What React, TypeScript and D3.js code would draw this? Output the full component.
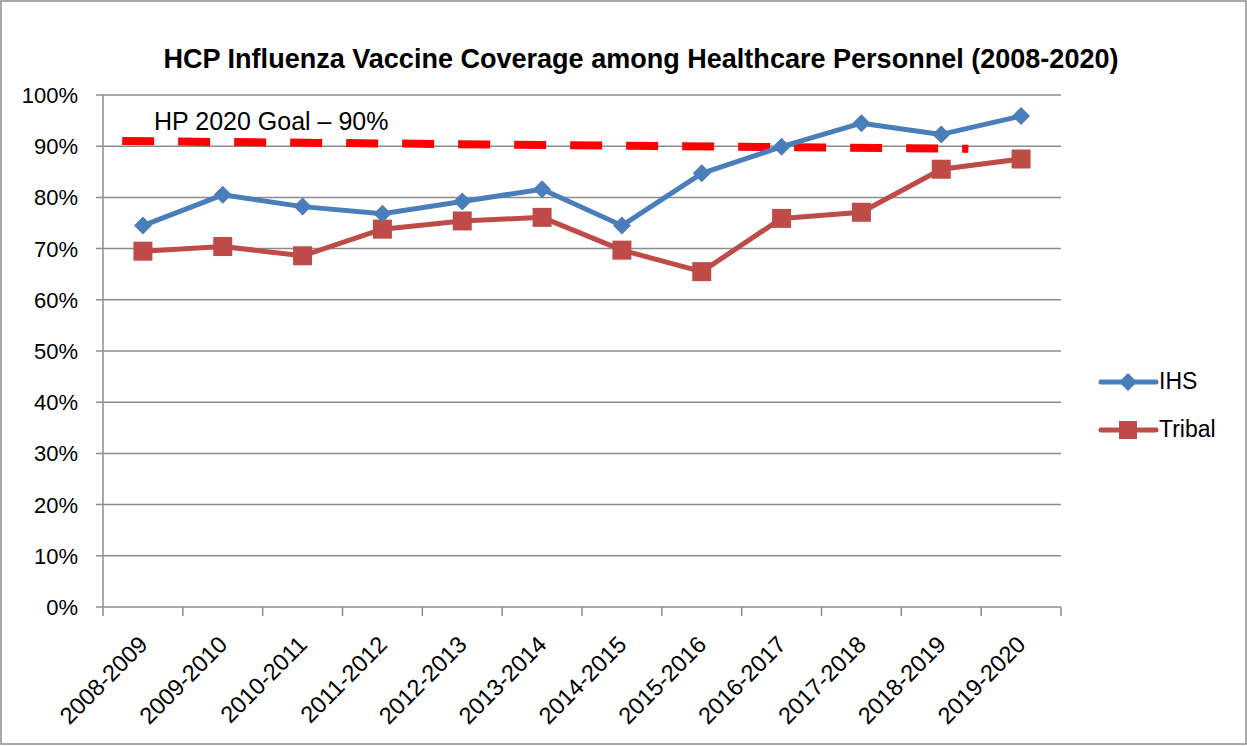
import React from 'react';
import * as d3 from 'd3';

const categories = [
  '2008-2009', '2009-2010', '2010-2011', '2011-2012', '2012-2013', '2013-2014',
  '2014-2015', '2015-2016', '2016-2017', '2017-2018', '2018-2019', '2019-2020',
];
const ihsValues = [74.5, 80.5, 78.2, 76.8, 79.2, 81.6, 74.5, 84.7, 89.9, 94.5, 92.3, 95.9];
const tribalValues = [69.5, 70.4, 68.6, 73.8, 75.4, 76.1, 69.7, 65.5, 75.9, 77.1, 85.5, 87.5];
// goal line drawn on its own (slightly offset) category positions
const goalPositions = [-0.26, 10.34];
const goalValues = [91.0, 89.5];
const yTicks = [0, 10, 20, 30, 40, 50, 60, 70, 80, 90, 100];

const W = 1247;
const H = 746;
const font = '"Liberation Sans", Arial, sans-serif';

const App = () => {
  const x = d3.scaleBand().domain(categories).range([103, 1061]);
  const bw = x.bandwidth();
  const cx = (c: string) => (x(c) as number) + bw / 2;
  const idx = d3.scaleLinear().domain([0, categories.length - 1]).range([cx(categories[0]), cx(categories[categories.length - 1])]);
  const y = d3.scaleLinear().domain([0, 100]).range([607, 95]);

  const line = d3.line<number>()
    .x((_, i) => cx(categories[i]))
    .y((d) => y(d));

  const goalLine = d3.line<number>()
    .x((_, i) => idx(goalPositions[i]))
    .y((d) => y(d));

  const diamond = (px: number, py: number, r: number) =>
    `M${px},${py - r}L${px + r},${py}L${px},${py + r}L${px - r},${py}Z`;

  const blue = '#4A7EBB';
  const red = '#BE4B48';
  const grid = '#8C8C8C';

  return (
    <svg width={W} height={H} style={{ position: 'absolute', left: 0, top: 0, background: '#fff' }}>
      <rect x={1} y={1} width={W - 2} height={H - 3} fill="#fff" stroke="#8C8C8C" strokeWidth={1.5} />
      <text x={641} y={68} textAnchor="middle" fontFamily={font} fontWeight="bold" fontSize={27}
        textLength={955} lengthAdjust="spacingAndGlyphs" fill="#000">
        HCP Influenza Vaccine Coverage among Healthcare Personnel (2008-2020)
      </text>

      {yTicks.map((t) => (
        <g key={t}>
          <line x1={96} x2={1061} y1={y(t)} y2={y(t)} stroke={grid} strokeWidth={1.5} />
          <text x={78} y={y(t)} dy="0.36em" textAnchor="end" fontFamily={font} fontSize={22} fill="#000">
            {t}%
          </text>
        </g>
      ))}
      <line x1={103} x2={103} y1={y(100)} y2={y(0)} stroke={grid} strokeWidth={1.5} />
      {categories.map((c) => (
        <line key={c} x1={(x(c) as number)} x2={(x(c) as number)} y1={y(0)} y2={y(0) + 9} stroke={grid} strokeWidth={1.5} />
      ))}
      <line x1={1061} x2={1061} y1={y(0)} y2={y(0) + 9} stroke={grid} strokeWidth={1.5} />
      {categories.map((c) => (
        <text key={c} transform={`translate(${cx(c) + 6},${y(0) + 39}) rotate(-45)`} textAnchor="end"
          fontFamily={font} fontSize={23.5} fill="#000">
          {c}
        </text>
      ))}

      <path d={goalLine(goalValues) as string} fill="none" stroke="#FF0000" strokeWidth={8} strokeDasharray="32 24" />
      <text x={154} y={130} fontFamily={font} fontSize={25} fill="#000">HP 2020 Goal – 90%</text>

      <path d={line(tribalValues) as string} fill="none" stroke={red} strokeWidth={5} strokeLinejoin="round" />
      {tribalValues.map((v, i) => (
        <rect key={i} x={cx(categories[i]) - 9.5} y={y(v) - 9.5} width={19} height={19} fill={red} />
      ))}
      <path d={line(ihsValues) as string} fill="none" stroke={blue} strokeWidth={5} strokeLinejoin="round" />
      {ihsValues.map((v, i) => (
        <path key={i} d={diamond(cx(categories[i]), y(v), 9)} fill={blue} />
      ))}

      <g>
        <line x1={1101} x2={1156} y1={382} y2={382} stroke={blue} strokeWidth={5} strokeLinecap="round" />
        <path d={diamond(1128, 382, 9)} fill={blue} />
        <text x={1159} y={389} fontFamily={font} fontSize={23} fill="#000">IHS</text>
        <line x1={1101} x2={1156} y1={430} y2={430} stroke={red} strokeWidth={5} strokeLinecap="round" />
        <rect x={1119} y={421} width={18} height={18} fill={red} />
        <text x={1159} y={437} fontFamily={font} fontSize={23} fill="#000">Tribal</text>
      </g>
    </svg>
  );
};

export default App;
